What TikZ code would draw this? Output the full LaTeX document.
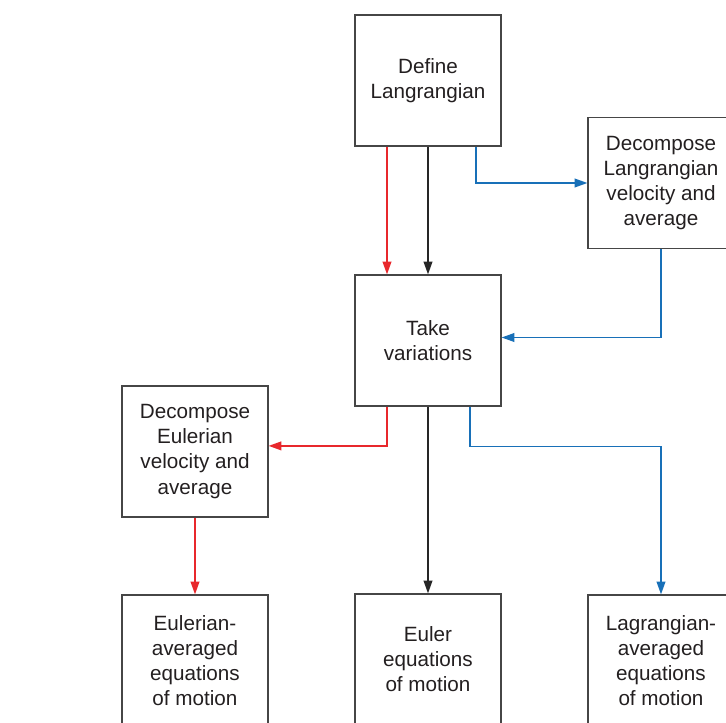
\documentclass[tikz,border=0pt]{standalone}
\usepackage{fontspec}
\setmainfont{Liberation Sans}
\usetikzlibrary{arrows.meta}
\definecolor{redpath}{RGB}{232,40,44}
\definecolor{bluepath}{RGB}{24,112,184}
\definecolor{boxline}{RGB}{70,70,70}
\definecolor{boxtext}{RGB}{35,31,32}
\begin{document}
\begin{tikzpicture}[
    stepbox/.style={draw=boxline, line width=0.9pt, minimum width=3.65cm,
        minimum height=3.275cm, align=center, text=boxtext,
        font=\fontsize{14.7}{17.8}\selectfont},
    flow/.style={line width=1pt, -{Triangle[length=0.32cm, width=0.22cm]}},
]
    % Page frame
    \useasboundingbox (0,0) rectangle (18.15,-18.075);
    \clip (0,0) rectangle (18.15,-18.075);

    % Boxes
    \node[stepbox] (define) at (10.7,-2.0125) {Define\\Langrangian};
    \node[stepbox] (decompL) at (16.525,-4.575) {Decompose\\Langrangian\\velocity and\\average};
    \node[stepbox] (take) at (10.7,-8.5125) {Take\\variations};
    \node[stepbox] (decompE) at (4.875,-11.2875) {Decompose\\Eulerian\\velocity and\\average};
    \node[stepbox] (eulerAvg) at (4.875,-16.5125) {Eulerian-\\averaged\\equations\\of motion};
    \node[stepbox] (euler) at (10.7,-16.4875) {Euler\\equations\\of motion};
    \node[stepbox] (lagAvg) at (16.525,-16.5125) {Lagrangian-\\averaged\\equations\\of motion};

    % Eulerian route
    \draw[flow, redpath] ([xshift=-1.025cm]define.south) -- ([xshift=-1.025cm]take.north);
    \draw[flow, redpath] ([xshift=-1.025cm]take.south) |- ([yshift=0.14cm]decompE.east);
    \draw[flow, redpath] (decompE.south) -- (eulerAvg.north);

    % Direct route
    \draw[flow, black!85] (define.south) -- (take.north);
    \draw[flow, black!85] (take.south) -- (euler.north);

    % Lagrangian route
    \draw[flow, bluepath] ([xshift=1.2cm]define.south) |- (decompL.west);
    \draw[flow, bluepath] (decompL.south) |- ([yshift=0.075cm]take.east);
    \draw[flow, bluepath] ([xshift=1.05cm]take.south) -- ++(0,-1) -| (lagAvg.north);
\end{tikzpicture}
\end{document}
